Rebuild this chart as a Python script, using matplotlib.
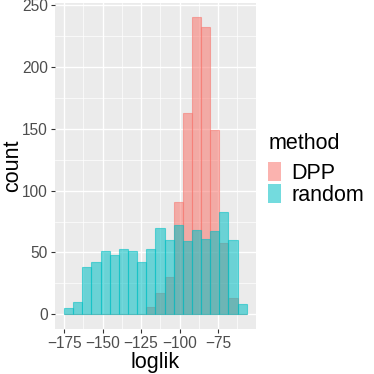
import matplotlib
matplotlib.use("Agg")

import numpy as np
import matplotlib.pyplot as plt
from matplotlib.patches import Patch

# histogram bins (shared by both groups) and counts per bin
bin_start = -175.0
bin_width = 5.93
random_counts = [5, 10, 38, 42, 51, 48, 53, 51, 42, 53,
                 70, 60, 72, 59, 68, 61, 67, 83, 60, 8]
dpp_counts = [0, 0, 0, 0, 0, 0, 0, 0, 0, 6,
              17, 30, 91, 163, 240, 232, 149, 58, 13, 0]
methods = ["DPP", "random"]
colors = {"DPP": "#F8766D", "random": "#00BFC4"}

x_ticks = [-175, -150, -125, -100, -75]
y_ticks = [0, 50, 100, 150, 200, 250]

plt.rcParams["font.family"] = ["Liberation Sans", "DejaVu Sans"]

lefts = bin_start + bin_width * np.arange(len(random_counts))

fig = plt.figure(figsize=(3.74, 3.74), dpi=100)
ax = fig.add_axes([0.147, 0.120, 0.537, 0.873])
ax.set_facecolor("#EBEBEB")

# DPP first, random drawn on top (ggplot group order)
for name, counts in zip(methods, [dpp_counts, random_counts]):
    ax.bar(lefts, counts, width=bin_width, align="edge",
           color=colors[name], edgecolor=colors[name], linewidth=0.8,
           alpha=0.55, zorder=3)

# limits with ggplot-style 5% expansion
xmin, xmax = lefts[0], lefts[-1] + bin_width
xpad = 0.05 * (xmax - xmin)
ax.set_xlim(xmin - xpad, xmax + xpad)
ymax = max(max(dpp_counts), max(random_counts))
ax.set_ylim(-0.05 * ymax, 1.05 * ymax)

ax.set_xticks(x_ticks)
ax.set_yticks(y_ticks)
ax.set_xticks([t + 12.5 for t in x_ticks], minor=True)
ax.set_yticks([t + 25 for t in y_ticks[:-1]], minor=True)
ax.grid(which="major", color="white", linewidth=1.0, zorder=1)
ax.grid(which="minor", color="white", linewidth=0.5, zorder=1)
ax.set_axisbelow(True)

for s in ax.spines.values():
    s.set_visible(False)
ax.tick_params(which="major", length=3, width=0.8, color="#333333",
               labelcolor="#4D4D4D", labelsize=11.2, pad=2)
ax.tick_params(which="minor", length=0)

ax.set_xlabel("loglik", fontsize=15.5, labelpad=1)
ax.set_ylabel("count", fontsize=15.5, labelpad=-0.5)

handles = [Patch(facecolor=colors[m], edgecolor="none", alpha=0.55) for m in methods]
leg = fig.legend(handles, methods, title="method", loc="upper left",
                 bbox_to_anchor=(0.717, 0.645), frameon=False,
                 fontsize=15.5, title_fontsize=15.5, labelspacing=0,
                 handleheight=0.97, handlelength=0.59, handletextpad=0.5,
                 borderaxespad=0, borderpad=0)
leg._legend_box.align = "left"
leg._legend_box.sep = 6

fig.savefig("out.png", dpi=100)
plt.close(fig)
